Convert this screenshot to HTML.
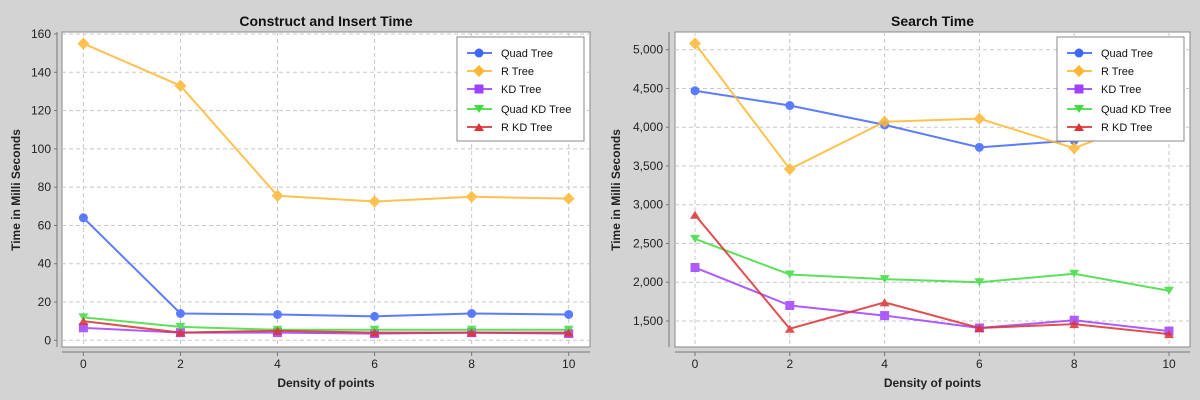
<!DOCTYPE html>
<html><head><meta charset="utf-8"><style>
body{margin:0;background:#d3d3d3;}
svg{display:block;font-family:"Liberation Sans",sans-serif;}
</style></head><body>
<svg id="c" width="1200" height="400"></svg>
<script>
const categories=[0,2,4,6,8,10];
const seriesNames=["Quad Tree","R Tree","KD Tree","Quad KD Tree","R KD Tree"];
const seriesColors=["#3f66ff","#ffb732","#a040ff","#3fdc3f","#dc3232"];
const markers=["circle","diamond","square","down","up"];
const constructQuad=[64,14,13.5,12.5,14,13.5];
const constructR=[155,133,75.5,72.5,75,74];
const constructKD=[6.5,4,4,3.5,4,3.5];
const constructQuadKD=[12,7,5.5,5.5,5.5,5.5];
const constructRKD=[10,4,5,4,4,4];
const searchQuad=[4470,4280,4030,3740,3830,4100];
const searchR=[5080,3460,4070,4110,3730,4200];
const searchKD=[2190,1700,1570,1410,1510,1370];
const searchQuadKD=[2560,2100,2040,2000,2110,1890];
const searchRKD=[2870,1400,1740,1410,1460,1330];
const constructTicks=[0,20,40,60,80,100,120,140,160];
const searchTicks=[1500,2000,2500,3000,3500,4000,4500,5000];
const xTicks=[0,2,4,6,8,10];

const NS="http://www.w3.org/2000/svg";
const svg=document.getElementById('c');
function el(t,a,p){const e=document.createElementNS(NS,t);for(const k in a)e.setAttribute(k,a[k]);(p||svg).appendChild(e);return e;}
function marker(g,type,x,y,col){
  let m;
  if(type=="circle")m=el('circle',{cx:x,cy:y,r:4.5,fill:col},g);
  else if(type=="diamond")m=el('polygon',{points:`${x},${y-6} ${x+6},${y} ${x},${y+6} ${x-6},${y}`,fill:col},g);
  else if(type=="square")m=el('rect',{x:x-4.5,y:y-4.5,width:9,height:9,fill:col},g);
  else if(type=="down")m=el('polygon',{points:`${x-5},${y-4} ${x+5},${y-4} ${x},${y+4}`,fill:col},g);
  else m=el('polygon',{points:`${x-5},${y+4} ${x+5},${y+4} ${x},${y-4}`,fill:col},g);
  return m;
}
function chart(o){
  const g=el('g',{});
  
  
  const X=v=>o.x0+(v-0)/10*(o.x10-o.x0);
  const Y=v=>o.yA+(v-o.vA)/(o.vB-o.vA)*(o.yB-o.yA);
  const t=el('text',{x:(o.left+o.right)/2,y:26,'text-anchor':'middle','font-size':14,'font-weight':'bold',fill:'#111'},g);t.textContent=o.title;
  
  el('rect',{x:o.left,y:32,width:o.right-o.left,height:315,fill:'#fff',stroke:'#888'},g);
  const grid=el('g',{stroke:'#c8c8c8','stroke-dasharray':'4,3','stroke-width':1},g);
  xTicks.forEach(v=>el('line',{x1:X(v),x2:X(v),y1:32,y2:347},grid));
  o.ticks.forEach(v=>el('line',{x1:o.left,x2:o.right,y1:Y(v),y2:Y(v)},grid));
  el('line',{x1:o.axisX,x2:o.axisX,y1:32,y2:347,stroke:'#777'},g);
  el('line',{x1:o.left,x2:o.right,y1:352,y2:352,stroke:'#777'},g);
  o.ticks.forEach(v=>{
    el('line',{x1:o.axisX-3,x2:o.axisX,y1:Y(v),y2:Y(v),stroke:'#777'},g);
    const tx=el('text',{x:o.axisX-6,y:Y(v)+4,'text-anchor':'end','font-size':12,fill:'#222'},g);
    tx.textContent=v.toLocaleString('en-US');
    
  });
  xTicks.forEach(v=>{
    el('line',{x1:X(v),x2:X(v),y1:352,y2:356,stroke:'#777'},g);
    const tx=el('text',{x:X(v),y:368,'text-anchor':'middle','font-size':12,fill:'#222'},g);
    tx.textContent=v;
    
  });
  const xl=el('text',{x:(o.left+o.right)/2,y:387,'text-anchor':'middle','font-size':12,'font-weight':'bold',fill:'#222'},g);
  xl.textContent='Density of points';
  const yl=el('text',{x:0,y:0,transform:`translate(20,190) rotate(-90)`,'text-anchor':'middle','font-size':12,'font-weight':'bold',fill:'#222'},g);
  if(o.left>600)yl.setAttribute('transform','translate(620,190) rotate(-90)');
  yl.textContent='Time in Milli Seconds';
  o.series.forEach((s,i)=>{
    const sg=el('g',{opacity:0.85},g);
    
    
    el('polyline',{points:s.map((v,j)=>X(categories[j])+','+Y(v)).join(' '),fill:'none',stroke:seriesColors[i],'stroke-width':2},sg);
    s.forEach((v,j)=>marker(sg,markers[i],X(categories[j]),Y(v),seriesColors[i]));
  });
  const lx=o.legendX;
  const lg=el('g',{},g);
  
  el('rect',{x:lx,y:37,width:127,height:104,fill:'#fff',stroke:'#888'},lg);
  const ly=[53,71,89,109,127];
  seriesNames.forEach((n,i)=>{
    const eg=el('g',{},lg);
    
    el('line',{x1:lx+10,x2:lx+35,y1:ly[i],y2:ly[i],stroke:seriesColors[i],'stroke-width':2,opacity:0.85},eg);
    marker(eg,markers[i],lx+22,ly[i],seriesColors[i]);
    const tx=el('text',{x:lx+44,y:ly[i]+4,'font-size':11,fill:'#111'},eg);tx.textContent=n;
  });
}
chart({name:'construct-chart',title:'Construct and Insert Time',left:62,right:590,axisX:57,x0:83.4,x10:568.7,
  vA:0,yA:340.3,vB:160,yB:34,ticks:constructTicks,legendX:457,
  series:[constructQuad,constructR,constructKD,constructQuadKD,constructRKD]});
chart({name:'search-chart',title:'Search Time',left:675,right:1190,axisX:669,x0:695,x10:1169,
  vA:1500,yA:321,vB:5000,yB:49.7,ticks:searchTicks,legendX:1057,
  series:[searchQuad,searchR,searchKD,searchQuadKD,searchRKD]});
</script>
</body></html>
